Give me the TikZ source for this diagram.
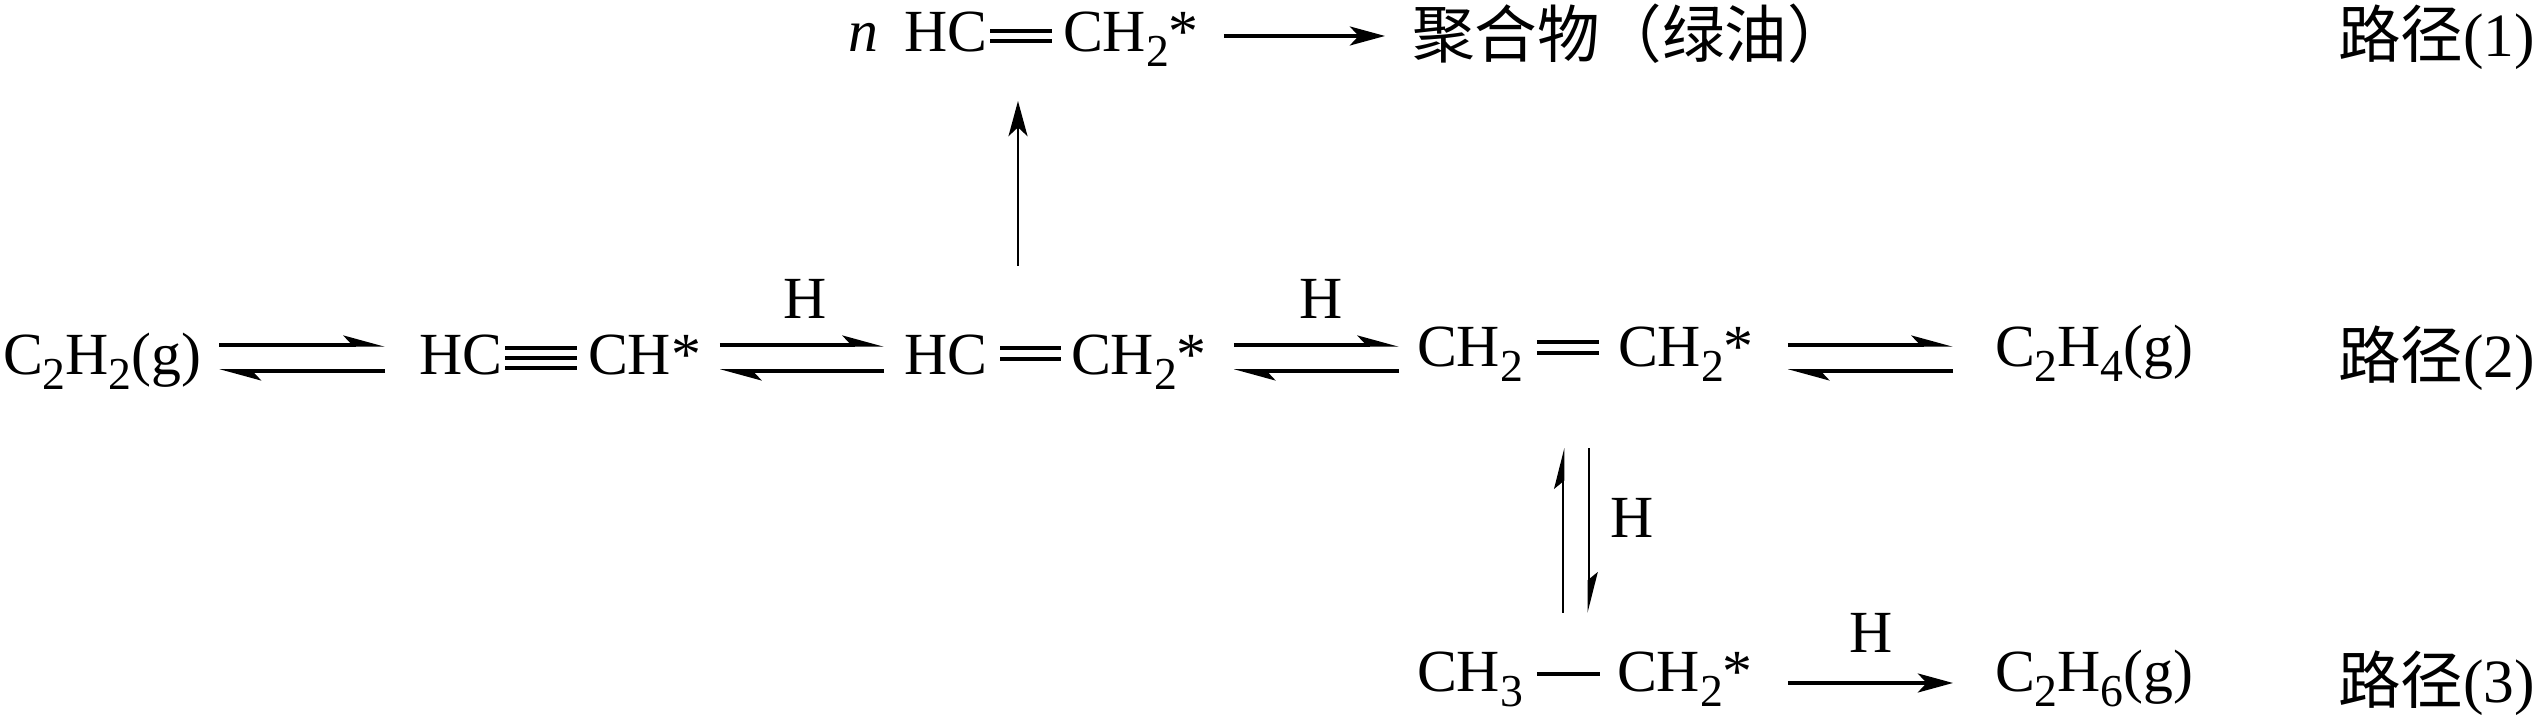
\documentclass[tikz,border=0pt]{standalone}
\usepackage{fontspec}
\setmainfont{Liberation Serif}
\newfontfamily\cjk{Noto Sans CJK SC}
\usetikzlibrary{arrows.meta}
\newcommand{\sbs}[1]{\raisebox{-4pt}{\fontsize{13}{14}\selectfont #1}}
\newcommand{\rtnum}[1]{\raisebox{0.4pt}{\rmfamily\fontsize{17.5}{20}\selectfont(#1)}}
\tikzset{
  chem/.style={inner sep=0pt, outer sep=0pt, anchor=base west, text height=0.4cm, text depth=0.14cm, font=\fontsize{17}{20}\selectfont},
  cjktext/.style={chem, font=\fontsize{17.8}{20}\selectfont\cjk},
  bond/.style={line width=1.15pt},
  fwd/.style={line width=1pt, -{Stealth[length=10pt, width=5.4pt, inset=2.5pt]}},
  eqtop/.style={line width=1pt, -{Stealth[harpoon, length=10pt, width=5.4pt, inset=2.5pt]}},
  thinup/.style={line width=0.8pt, -{Stealth[length=10pt, width=5.4pt, inset=2.5pt]}},
  thineq/.style={line width=0.8pt, -{Stealth[harpoon, length=10pt, width=5pt, inset=2pt]}}
}
\begin{document}
\begin{tikzpicture}[x=0.01cm, y=-0.01cm]
  \useasboundingbox (0,0) rectangle (2535,728);

  \node[chem] (nn) at (848,52) {\textit{n}};
  \node[chem] (hctop) at (904,52) {HC};
  \node[chem] (chtop) at (1063,52) {CH\sbs{2}*};
  \node[cjktext] (poly) at (1412,58) {聚合物（绿油）};
  \node[cjktext] (route1) at (2338,58) {路径\rtnum{1}};

  \node[chem] (ethyne) at (3,375) {C\sbs{2}H\sbs{2}(g)};
  \node[chem] (hca) at (419,375) {HC};
  \node[chem] (cha) at (588,375) {CH*};
  \node[chem] (hcb) at (904,375) {HC};
  \node[chem] (chb) at (1071,375) {CH\sbs{2}*};
  \node[chem] (chc) at (1417,367) {CH\sbs{2}};
  \node[chem] (chd) at (1618,367) {CH\sbs{2}*};
  \node[chem] (ethene) at (1995,367) {C\sbs{2}H\sbs{4}(g)};
  \node[cjktext] (route2) at (2338,379) {路径\rtnum{2}};

  \node[chem] (che) at (1417,692) {CH\sbs{3}};
  \node[chem] (chf) at (1617,692) {CH\sbs{2}*};
  \node[chem] (ethane) at (1995,692) {C\sbs{2}H\sbs{6}(g)};
  \node[cjktext] (route3) at (2338,704) {路径\rtnum{3}};

  \node[chem] (ha) at (783,319) {H};
  \node[chem] (hb) at (1299,319) {H};
  \node[chem] (hc) at (1610,538) {H};
  \node[chem] (hd) at (1849,653) {H};

  \draw[bond] ([shift={(3,-8)}]hctop.east) -- ([shift={(-11,-8)}]chtop.west);
  \draw[bond] ([shift={(3,2)}]hctop.east) -- ([shift={(-11,2)}]chtop.west);
  \draw[fwd] ([shift={(25,-3)}]chtop.east) -- ([shift={(-27,-9)}]poly.west);
  \draw[thinup] (1018,266) coordinate (upstart) -- (1018,101) coordinate (upend);

  \draw[eqtop] ([shift={(18,-17)}]ethyne.east) -- ([shift={(-34,-17)}]hca.west);
  \draw[eqtop] ([shift={(-34,9)}]hca.west) -- ([shift={(18,9)}]ethyne.east);
  \draw[bond] ([shift={(3,-14)}]hca.east) -- ([shift={(-11,-14)}]cha.west);
  \draw[bond] ([shift={(3,-4)}]hca.east) -- ([shift={(-11,-4)}]cha.west);
  \draw[bond] ([shift={(3,6)}]hca.east) -- ([shift={(-11,6)}]cha.west);
  \draw[eqtop] ([shift={(19,-17)}]cha.east) -- ([shift={(-20,-17)}]hcb.west);
  \draw[eqtop] ([shift={(-20,9)}]hcb.west) -- ([shift={(19,9)}]cha.east);
  \draw[bond] ([shift={(13,-14)}]hcb.east) -- ([shift={(-10,-14)}]chb.west);
  \draw[bond] ([shift={(13,-3)}]hcb.east) -- ([shift={(-10,-3)}]chb.west);
  \draw[eqtop] ([shift={(27,-17)}]chb.east) -- ([shift={(-18,-9)}]chc.west);
  \draw[eqtop] ([shift={(-18,17)}]chc.west) -- ([shift={(27,9)}]chb.east);
  \draw[bond] ([shift={(14,-12)}]chc.east) -- ([shift={(-19,-12)}]chd.west);
  \draw[bond] ([shift={(14,-1)}]chc.east) -- ([shift={(-19,-1)}]chd.west);
  \draw[eqtop] ([shift={(34,-9)}]chd.east) -- ([shift={(-42,-9)}]ethene.west);
  \draw[eqtop] ([shift={(-42,17)}]ethene.west) -- ([shift={(34,17)}]chd.east);

  \draw[thineq] ([shift={(40,-39)}]che.north east) -- ([shift={(40,67)}]chc.south east);
  \draw[thineq] ([shift={(66,67)}]chc.south east) -- ([shift={(66,-39)}]che.north east);

  \draw[bond] ([shift={(14,-5)}]che.east) -- ([shift={(-17,-5)}]chf.west);
  \draw[fwd] ([shift={(35,4)}]chf.east) -- ([shift={(-42,4)}]ethane.west);
\end{tikzpicture}
\end{document}
